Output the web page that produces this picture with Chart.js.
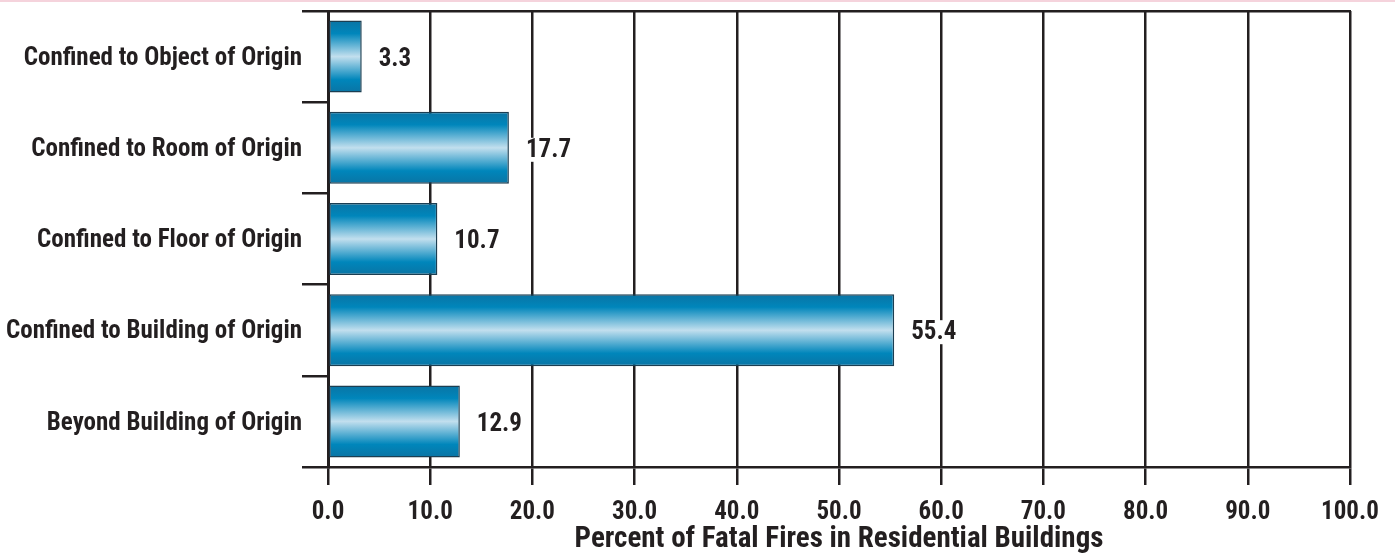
<!DOCTYPE html>
<html>
<head>
<meta charset="utf-8">
<script src="https://cdn.jsdelivr.net/npm/chart.js@4/dist/chart.umd.min.js"></script>
<style>
  html, body { margin: 0; padding: 0; background: #ffffff; }
  #wrap { width: 1395px; height: 553px; position: relative; }
</style>
</head>
<body>
<div id="wrap"><canvas id="c" width="1395" height="553"></canvas></div>
<script>
const categories = [
  "Confined to Object of Origin",
  "Confined to Room of Origin",
  "Confined to Floor of Origin",
  "Confined to Building of Origin",
  "Beyond Building of Origin"
];
const percentValues = [3.3, 17.7, 10.7, 55.4, 12.9];
const xAxisTitle = "Percent of Fatal Fires in Residential Buildings";

const INK = "#231f20";
const FONT = "'Roboto Condensed', 'Liberation Sans', sans-serif";
const BAR_PCT = 0.79;

function barGradient(ctx) {
  const chart = ctx.chart;
  const yScale = chart.scales && chart.scales.y;
  if (!chart.chartArea || !yScale) return "#0088bd";
  const center = yScale.getPixelForValue(ctx.dataIndex);
  const band = (yScale.bottom - yScale.top) / categories.length;
  const half = band * BAR_PCT / 2;
  const g = chart.ctx.createLinearGradient(0, center - half, 0, center + half);
  g.addColorStop(0, "#0a74a4");
  g.addColorStop(0.18, "#0086bb");
  g.addColorStop(0.5, "#c2dfee");
  g.addColorStop(0.82, "#0086bb");
  g.addColorStop(1, "#0a74a4");
  return g;
}

const topBand = {
  id: "topBand",
  beforeDraw(chart) {
    const c = chart.ctx;
    c.save();
    c.fillStyle = "#f5d3dc";
    c.fillRect(0, 0, chart.width, 2);
    c.restore();
  }
};

const valueLabels = {
  id: "valueLabels",
  afterDatasetsDraw(chart) {
    const c = chart.ctx;
    const meta = chart.getDatasetMeta(0);
    c.save();
    c.font = "bold 25px " + FONT;
    c.textBaseline = "middle";
    c.textAlign = "left";
    meta.data.forEach((el, i) => {
      const txt = percentValues[i].toFixed(1);
      const x = el.x + 17;
      const y = el.y + 2;
      const w = c.measureText(txt).width;
      c.fillStyle = "#ffffff";
      c.fillRect(x - 2, y - 12, w + 4, 24);
      c.fillStyle = INK;
      c.fillText(txt, x, y + 1);
    });
    c.restore();
  }
};

new Chart(document.getElementById("c"), {
  type: "bar",
  data: {
    labels: categories,
    datasets: [{
      data: percentValues,
      backgroundColor: barGradient,
      borderColor: "#1b3e52",
      borderWidth: 1.5,
      borderSkipped: false,
      categoryPercentage: 1.0,
      barPercentage: BAR_PCT
    }]
  },
  options: {
    indexAxis: "y",
    responsive: false,
    animation: false,
    devicePixelRatio: 1,
    layout: { padding: { left: 0, right: 45, top: 11, bottom: 0 } },
    plugins: {
      legend: { display: false },
      tooltip: { enabled: false },
      title: { display: false }
    },
    scales: {
      x: {
        type: "linear",
        position: "bottom",
        min: 0,
        max: 100,
        ticks: {
          stepSize: 10,
          color: INK,
          padding: 13,
          maxRotation: 0,
          font: { family: FONT, weight: "bold", size: 25 },
          callback: (v) => Number(v).toFixed(1)
        },
        grid: {
          color: INK,
          lineWidth: 2.5,
          drawOnChartArea: true,
          drawTicks: true,
          tickLength: 18,
          tickColor: INK,
          tickWidth: 2.5
        },
        border: { display: true, color: INK, width: 2.5 },
        title: {
          display: true,
          text: xAxisTitle,
          color: INK,
          padding: { top: 0, bottom: -4 },
          font: { family: FONT, weight: "bold", size: 29 }
        },
        afterFit(scale) { scale.height = 86; }
      },
      x2: {
        type: "linear",
        position: "top",
        min: 0,
        max: 100,
        ticks: { display: false },
        grid: { display: false, drawTicks: false },
        border: { display: true, color: INK, width: 2.5 },
        afterFit(scale) { scale.height = 0; }
      },
      y: {
        type: "category",
        position: "left",
        ticks: {
          color: INK,
          padding: 0,
          labelOffset: 2,
          font: { family: FONT, weight: "bold", size: 25 }
        },
        grid: {
          offset: true,
          drawOnChartArea: false,
          drawTicks: true,
          tickLength: 26,
          color: INK,
          lineWidth: 2.5
        },
        border: { display: true, color: INK, width: 3 },
        afterFit(scale) {
          scale.width = 328;
          scale.paddingTop = 0;
          scale.paddingBottom = 0;
        }
      }
    }
  },
  plugins: [topBand, valueLabels]
});
</script>
</body>
</html>
